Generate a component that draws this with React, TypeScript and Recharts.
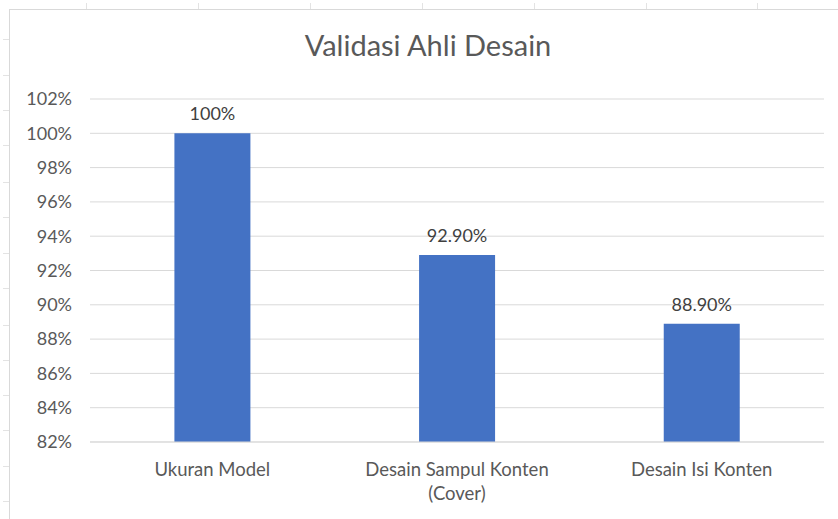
import React from "react";
import { BarChart, Bar, XAxis, YAxis, CartesianGrid, LabelList } from "recharts";

const categories = ["Ukuran Model", "Desain Sampul Konten (Cover)", "Desain Isi Konten"];
const values = [100, 92.9, 88.9];
const valueLabels = ["100%", "92.90%", "88.90%"];
const yTicks = [82, 84, 86, 88, 90, 92, 94, 96, 98, 100, 102];

const data = categories.map((name, i) => ({ name, value: values[i], label: valueLabels[i] }));

const FONT = "Lato, 'Liberation Sans', sans-serif";

// faint spreadsheet cell marks around the chart
const colMarks = [86, 198, 310, 422, 534, 646, 757];
const rowMarks = [39, 75, 110, 145, 182, 217, 253, 288, 325, 360, 395, 430, 466, 501];

const CategoryTick = (props: any) => {
    const { x, y, payload } = props;
    const text: string = payload.value;
    const idx = text.indexOf(" (");
    const lines = idx > 0 ? [text.slice(0, idx), text.slice(idx + 1)] : [text];
    return (
        <text x={x} y={y} textAnchor="middle" fill="#595959" fontSize={18.5} fontFamily={FONT}>
            {lines.map((l, i) => (
                <tspan key={i} x={x} dy={i === 0 ? 32 : 24}>
                    {l}
                </tspan>
            ))}
        </text>
    );
};

const App = () => {
    return (
        <div style={{ position: "absolute", left: 0, top: 0, width: 838, height: 519, background: "#fff", overflow: "hidden" }}>
            {colMarks.map((x) => (
                <div key={"c" + x} style={{ position: "absolute", left: x, top: 3, width: 1, height: 6, background: "#e3e3e3" }} />
            ))}
            {rowMarks.map((y) => (
                <div key={"r" + y} style={{ position: "absolute", left: 3, top: y, width: 6, height: 1, background: "#e3e3e3" }} />
            ))}
            <div
                style={{
                    position: "absolute",
                    left: 9,
                    top: 9,
                    width: 840,
                    height: 520,
                    border: "1px solid #d9d9d9",
                    boxSizing: "border-box",
                }}
            />
            <div
                style={{
                    position: "absolute",
                    left: 10,
                    top: 27,
                    width: 836,
                    textAlign: "center",
                    fontFamily: FONT,
                    fontSize: 29,
                    color: "#595959",
                }}
            >
                Validasi Ahli Desain
            </div>
            <div style={{ position: "absolute", left: 9, top: 9 }}>
                <BarChart
                    width={829}
                    height={510}
                    data={data}
                    margin={{ top: 90, right: 14, left: 0, bottom: 0 }}
                    barCategoryGap="34.5%"
                >
                    <CartesianGrid vertical={false} stroke="#d9d9d9" />
                    <XAxis
                        dataKey="name"
                        height={77}
                        axisLine={{ stroke: "#d9d9d9" }}
                        tickLine={false}
                        tickSize={0}
                        tick={<CategoryTick />}
                        interval={0}
                    />
                    <YAxis
                        width={81}
                        domain={[82, 102]}
                        ticks={yTicks}
                        allowDataOverflow
                        axisLine={false}
                        tickLine={false}
                        tickSize={0}
                        tickMargin={18}
                        tickFormatter={(v: number) => `${v}%`}
                        tick={{ fontSize: 18, fill: "#595959", fontFamily: FONT }}
                    />
                    <Bar dataKey="value" fill="#4472C4" isAnimationActive={false}>
                        <LabelList
                            dataKey="label"
                            position="top"
                            offset={13}
                            fill="#404040"
                            fontSize={18}
                            fontFamily={FONT}
                        />
                    </Bar>
                </BarChart>
            </div>
        </div>
    );
};

export default App;
